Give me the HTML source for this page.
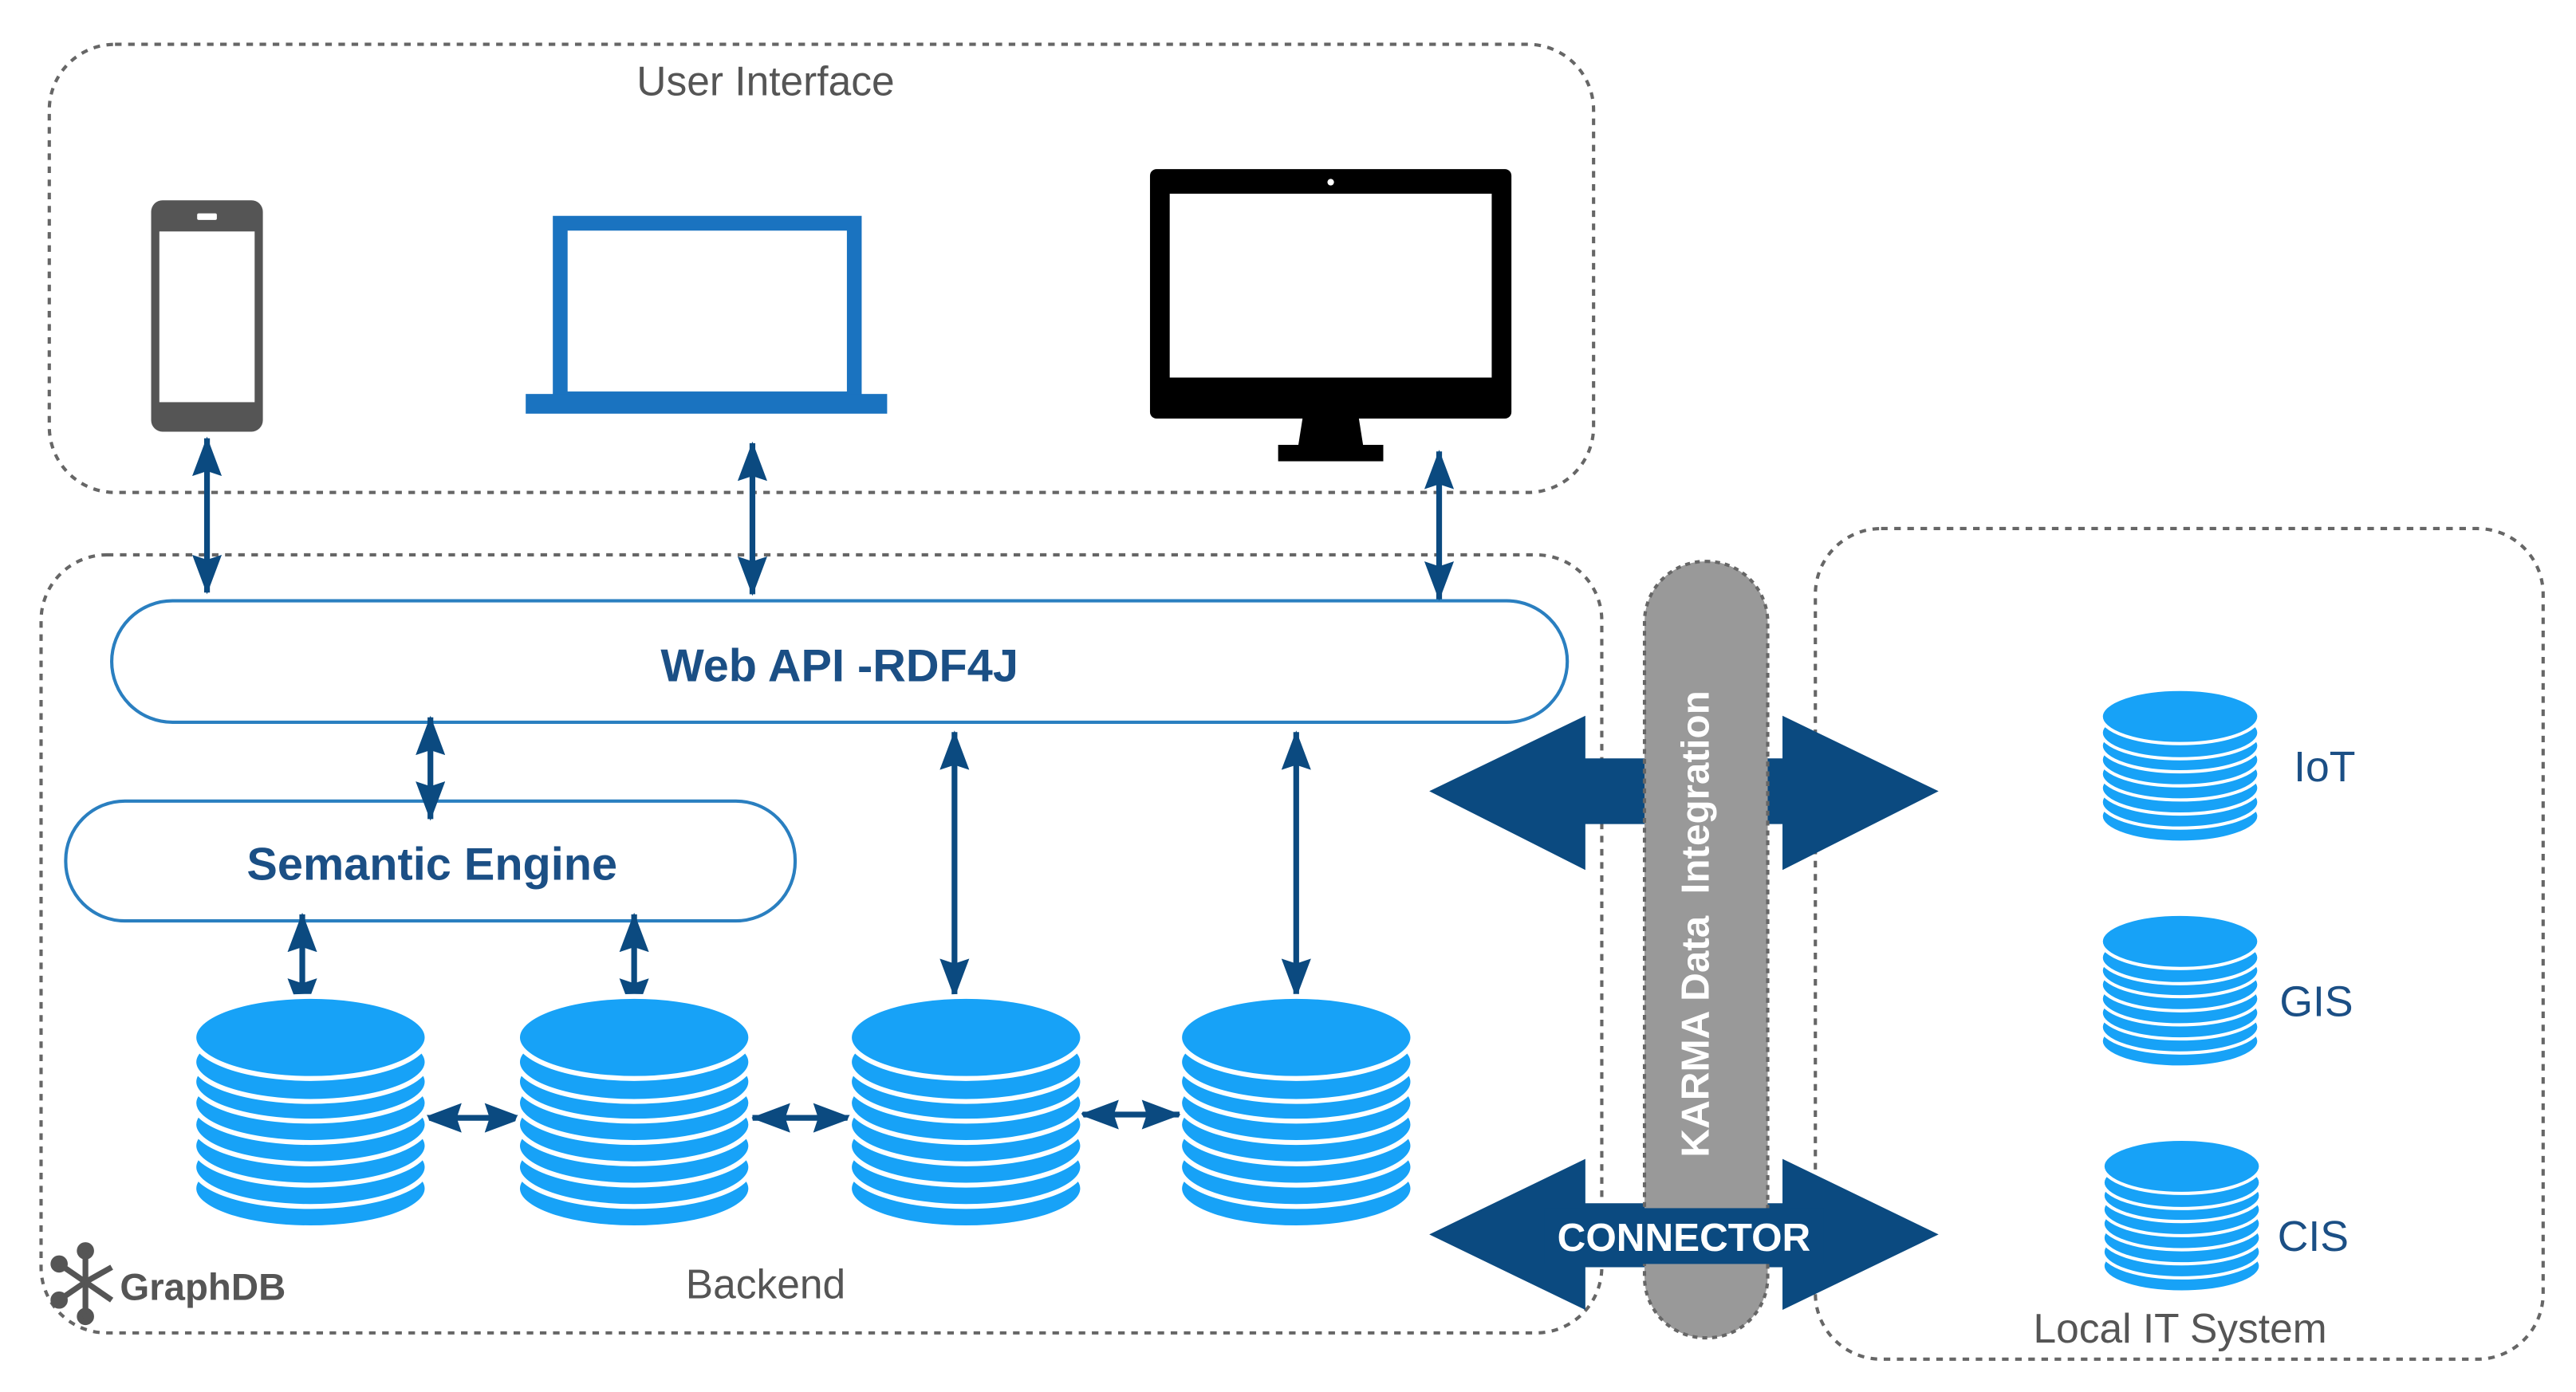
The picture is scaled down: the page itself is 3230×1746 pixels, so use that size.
<!DOCTYPE html>
<html><head><meta charset="utf-8"><style>
html,body{margin:0;padding:0;background:#fff;}
svg{display:block;}
text{font-family:"Liberation Sans",Arial,sans-serif;}
</style></head><body>
<svg width="3230" height="1746" viewBox="0 0 1568 848" preserveAspectRatio="none" xmlns="http://www.w3.org/2000/svg">
<defs>
<marker id="ah" viewBox="0 0 24 18" refX="23" refY="9" markerWidth="24" markerHeight="18" markerUnits="userSpaceOnUse" orient="auto-start-reverse">
<path d="M0,0 L24,9 L0,18 L3,9 Z" fill="#0b4a80"/>
</marker>
<g id="cyl">
<ellipse cx="71" cy="117" rx="71" ry="24" fill="#17a2f7" stroke="#fff" stroke-width="3"/>
<ellipse cx="71" cy="104" rx="71" ry="24" fill="#17a2f7" stroke="#fff" stroke-width="3"/>
<ellipse cx="71" cy="91" rx="71" ry="24" fill="#17a2f7" stroke="#fff" stroke-width="3"/>
<ellipse cx="71" cy="78" rx="71" ry="24" fill="#17a2f7" stroke="#fff" stroke-width="3"/>
<ellipse cx="71" cy="65" rx="71" ry="24" fill="#17a2f7" stroke="#fff" stroke-width="3"/>
<ellipse cx="71" cy="52" rx="71" ry="24" fill="#17a2f7" stroke="#fff" stroke-width="3"/>
<ellipse cx="71" cy="40" rx="71" ry="24" fill="#17a2f7" stroke="#fff" stroke-width="3"/>
<ellipse cx="71" cy="25" rx="71" ry="25" fill="#17a2f7" stroke="#fff" stroke-width="3"/>
</g>
</defs>

<rect x="30" y="27" width="940" height="273" rx="40" fill="none" stroke="#666" stroke-width="2" stroke-dasharray="4,4"/>
<rect x="25" y="338" width="950" height="474" rx="40" fill="none" stroke="#666" stroke-width="2" stroke-dasharray="4,4"/>
<rect x="1105" y="322" width="443" height="506" rx="40" fill="none" stroke="#666" stroke-width="2" stroke-dasharray="4,4"/>

<text x="466" y="58" font-size="25" fill="#555" text-anchor="middle">User Interface</text>

<rect x="92" y="122" width="68" height="141" rx="7" fill="#555"/>
<rect x="97" y="141" width="58" height="104" fill="#fff"/>
<rect x="120" y="130" width="12" height="4" rx="1" fill="#fff"/>
<rect x="341" y="136" width="179" height="107" fill="none" stroke="#1a73c0" stroke-width="9"/>
<rect x="320" y="240" width="220" height="12" fill="#1a73c0"/>
<rect x="700" y="103" width="220" height="152" rx="4" fill="#000"/>
<rect x="712" y="118" width="196" height="112" fill="#fff"/>
<circle cx="810" cy="111" r="2" fill="#fff"/>
<path d="M793,254 L827,254 L830,273 L790,273 Z" fill="#000"/>
<rect x="778" y="271" width="64" height="10" fill="#000"/>

<rect x="68" y="366" width="886" height="74" rx="37" fill="#fff" stroke="#2a7fc0" stroke-width="2"/>
<text x="511" y="415" font-size="28" font-weight="bold" fill="#1b4f85" text-anchor="middle">Web API -RDF4J</text>
<rect x="40" y="488" width="444" height="73" rx="36" fill="#fff" stroke="#2a7fc0" stroke-width="2"/>
<text x="263" y="536" font-size="28" font-weight="bold" fill="#1b4f85" text-anchor="middle">Semantic Engine</text>

<g stroke="#0b4a80" stroke-width="3.5" marker-start="url(#ah)" marker-end="url(#ah)">
<line x1="126" y1="267" x2="126" y2="361"/>
<line x1="458" y1="270" x2="458" y2="362"/>
<line x1="876" y1="275" x2="876" y2="365"/>
<line x1="262" y1="437" x2="262" y2="499"/>
<line x1="184" y1="557" x2="184" y2="619"/>
<line x1="386" y1="557" x2="386" y2="619"/>
<line x1="581" y1="446" x2="581" y2="607"/>
<line x1="789" y1="446" x2="789" y2="607"/>
<line x1="258" y1="681" x2="318" y2="681"/>
<line x1="458" y1="681" x2="518" y2="681"/>
<line x1="658" y1="679" x2="718" y2="679"/>
</g>

<use href="#cyl" transform="translate(118,607)"/>
<use href="#cyl" transform="translate(315,607)"/>
<use href="#cyl" transform="translate(517,607)"/>
<use href="#cyl" transform="translate(718,607)"/>
<use href="#cyl" transform="translate(1279,420) scale(0.676,0.66)"/>
<use href="#cyl" transform="translate(1279,557) scale(0.676,0.66)"/>
<use href="#cyl" transform="translate(1280,694) scale(0.676,0.66)"/>

<text x="1415" y="476" font-size="26" fill="#1b4f85" text-anchor="middle">IoT</text>
<text x="1410" y="619" font-size="26" fill="#1b4f85" text-anchor="middle">GIS</text>
<text x="1408" y="762" font-size="26" fill="#1b4f85" text-anchor="middle">CIS</text>
<text x="1327" y="818" font-size="25" fill="#555" text-anchor="middle">Local IT System</text>

<g stroke="#555" stroke-width="3.5" fill="#555">
<line x1="52" y1="781" x2="52" y2="762"/><line x1="52" y1="781" x2="36" y2="770"/><line x1="52" y1="781" x2="36" y2="792"/>
<line x1="52" y1="781" x2="52" y2="802"/><line x1="52" y1="781" x2="68" y2="772"/><line x1="52" y1="781" x2="68" y2="792"/>
<circle cx="52" cy="762" r="3.5"/><circle cx="36" cy="770" r="3.5"/><circle cx="36" cy="792" r="3.5"/><circle cx="52" cy="802" r="3.5"/>
</g>
<text x="73" y="792" font-size="23" font-weight="bold" fill="#555">GraphDB</text>
<text x="466" y="791" font-size="25" fill="#555" text-anchor="middle">Backend</text>

<path d="M870,482 L965,436 L965,462 L1085,462 L1085,436 L1180,482 L1085,530 L1085,502 L965,502 L965,530 Z" fill="#0b4a80"/>
<path d="M870,752 L965,706 L965,733 L1085,733 L1085,706 L1180,752 L1085,798 L1085,772 L965,772 L965,798 Z" fill="#0b4a80"/>

<rect x="1001" y="342" width="75" height="473" rx="37" fill="#999" stroke="#666" stroke-width="2" stroke-dasharray="3,3"/>
<text transform="translate(1040,705) rotate(-90)" font-size="24" font-weight="bold" fill="#fff" xml:space="preserve">KARMA Data  Integration</text>
<rect x="940" y="736" width="170" height="34" fill="#0b4a80"/>
<text x="1025" y="762" font-size="24" font-weight="bold" fill="#fff" text-anchor="middle">CONNECTOR</text>
</svg>
</body></html>
